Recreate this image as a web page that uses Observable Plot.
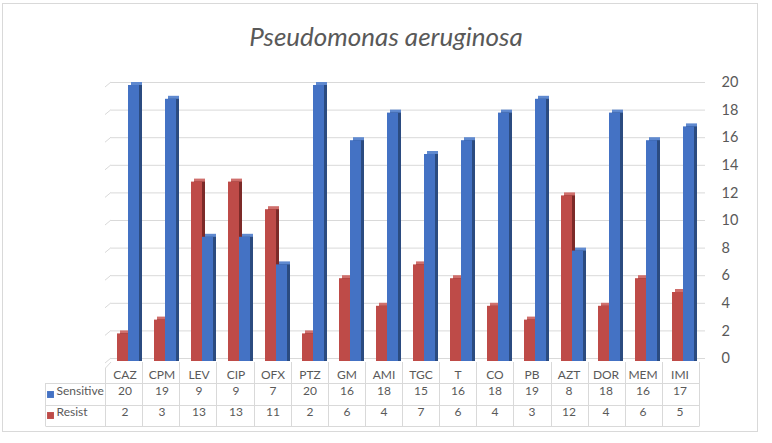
<!DOCTYPE html>
<html>
<head>
<meta charset="utf-8">
<script src="https://cdn.jsdelivr.net/npm/d3@7"></script>
<script src="https://cdn.jsdelivr.net/npm/@observablehq/plot@0.6"></script>
<style>
  html, body { margin: 0; padding: 0; background: #fff; }
  #wrap { position: relative; width: 772px; height: 443px; overflow: hidden; font-family: Lato, "Open Sans", sans-serif; }
  #frame { position: absolute; left: 2px; top: 3px; width: 756px; height: 429px; border: 1px solid #d9d9d9; box-sizing: border-box; }
  #title { position: absolute; left: 0; top: 21px; width: 772px; text-align: center; font: italic 26px Lato, sans-serif; line-height: 30px; color: #595959; }
  #chart { position: absolute; left: 0; top: 60px; }
</style>
</head>
<body>
<div id="wrap">
  <div id="frame"></div>
  <div id="title">Pseudomonas aeruginosa</div>
  <div id="chart"></div>
</div>
<script>
const categories = ["CAZ","CPM","LEV","CIP","OFX","PTZ","GM","AMI","TGC","T","CO","PB","AZT","DOR","MEM","IMI"];
const sensitive = [20,19,9,9,7,20,16,18,15,16,18,19,8,18,16,17];
const resist = [2,3,13,13,11,2,6,4,7,6,4,3,12,4,6,5];
const seriesNames = ["Sensitive","Resist"];
const yTicks = [0,2,4,6,8,10,12,14,16,18,20];

const rows = categories.map((c, i) => ({category: c, sensitive: sensitive[i], resist: resist[i]}));

const blue = {front: "#4472c4", side: "#2b4b80", top: "#5f89cf"};
const red = {front: "#be4b48", side: "#7c2a28", top: "#cf6f6c"};
const textColor = "#595959";
const lineColor = "#d9d9d9";

function barSet(field, col, insetLeft, insetRight) {
  const base = {x: "category", y: field, insetLeft, insetRight};
  return [
    Plot.barY(rows, {...base, fill: col.top, dx: 3, dy: 0}),
    Plot.barY(rows, {...base, fill: col.side, dx: 3, dy: 3}),
    Plot.barY(rows, {...base, fill: col.front, dy: 3})
  ];
}

function floorAndTable(index, scales, values, dimensions) {
  const {width, height, marginLeft, marginRight, marginBottom} = dimensions;
  const fb = height - marginBottom;
  const x0 = marginLeft, x1 = width - marginRight;
  const n = categories.length;
  const bw = (x1 - x0) / n;
  const g = d3.create("svg:g").attr("stroke", lineColor).attr("fill", "none").attr("stroke-width", 1);
  for (const t of yTicks) {
    const y = scales.y(t);
    g.append("line").attr("x1", x0).attr("y1", y + 5).attr("x2", x0 + 6).attr("y2", y);
  }
  for (let i = 0; i <= n; i++) {
    const x = Math.round(x0 + i * bw) + 0.5;
    g.append("line").attr("x1", x).attr("x2", x).attr("y1", i === 0 ? fb + 10 : fb + 4).attr("y2", fb + 68);
  }
  g.append("line").attr("x1", x0 + 0.5).attr("y1", fb + 10).attr("x2", x0 + 6).attr("y2", fb + 4);
  const lx = x0 - 60 + 0.5;
  g.append("line").attr("x1", lx).attr("x2", lx).attr("y1", fb + 25).attr("y2", fb + 68);
  for (const dy of [25, 47, 68]) {
    g.append("line").attr("x1", lx).attr("x2", x1 + 0.5).attr("y1", fb + dy + 0.5).attr("y2", fb + dy + 0.5);
  }
  return g.node();
}

const chart = Plot.plot({
  width: 772,
  height: 383,
  marginLeft: 105,
  marginRight: 73,
  marginTop: 22,
  marginBottom: 85,
  style: {fontFamily: "Lato, 'Open Sans', sans-serif", color: textColor, background: "transparent", overflow: "visible"},
  x: {domain: categories, padding: 0, axis: null},
  y: {domain: [0, 20], axis: null},
  marks: [
    Plot.ruleY(yTicks, {stroke: lineColor, strokeWidth: 1, dx: 6}),
    floorAndTable,
    ...barSet("resist", red, 11, 15),
    ...barSet("sensitive", blue, 22, 4),
    Plot.axisY(yTicks, {anchor: "right", tickSize: 0, tickPadding: 22, fontSize: 14.5, fill: textColor, label: null}),
    Plot.text(rows, {x: "category", text: "category", frameAnchor: "bottom", dy: 20, fontSize: 12, fill: textColor}),
    Plot.text(rows, {x: "category", text: "sensitive", frameAnchor: "bottom", dy: 36, fontSize: 12, fill: textColor}),
    Plot.text(rows, {x: "category", text: "resist", frameAnchor: "bottom", dy: 57, fontSize: 12, fill: textColor}),
    Plot.dot([seriesNames[0]], {frameAnchor: "bottom-left", dx: -55, dy: 36, symbol: "square", r: 3.9, fill: blue.front, stroke: null}),
    Plot.dot([seriesNames[1]], {frameAnchor: "bottom-left", dx: -55, dy: 57, symbol: "square", r: 3.9, fill: red.front, stroke: null}),
    Plot.text([seriesNames[0]], {frameAnchor: "bottom-left", text: d => d, dx: -49, dy: 36, textAnchor: "start", fontSize: 12, fill: textColor}),
    Plot.text([seriesNames[1]], {frameAnchor: "bottom-left", text: d => d, dx: -49, dy: 57, textAnchor: "start", fontSize: 12, fill: textColor})
  ]
});
document.getElementById("chart").append(chart);
</script>
</body>
</html>
